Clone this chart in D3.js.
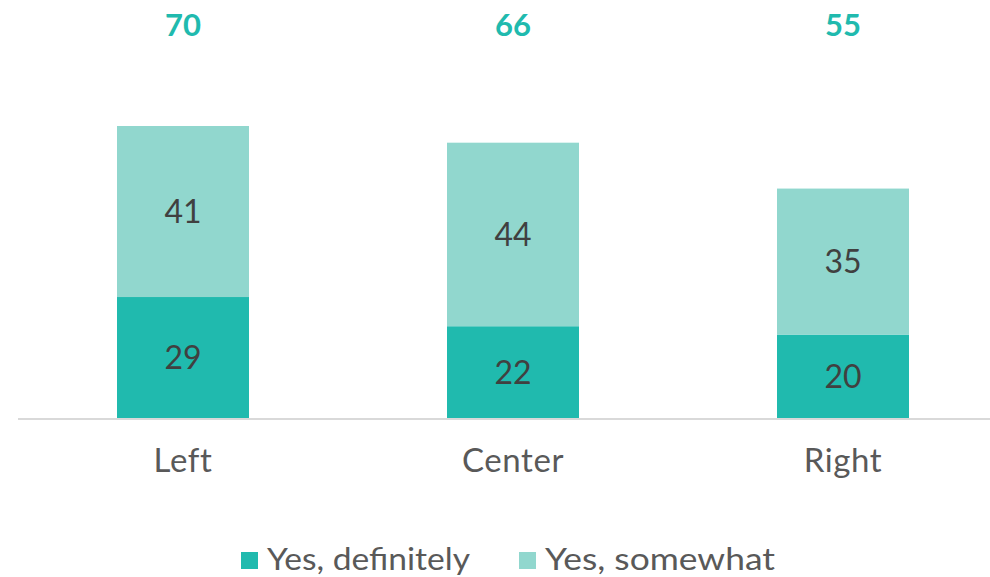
<!DOCTYPE html>
<html>
<head>
<meta charset="utf-8">
<script src="https://cdn.jsdelivr.net/npm/d3@7"></script>
<style>
  html, body { margin: 0; padding: 0; background: #fff; }
  svg { display: block; }
  text { font-family: "Lato", "Open Sans", sans-serif; }
</style>
</head>
<body>
<svg id="chart" width="990" height="577"></svg>
<script>
const categories = ["Left", "Center", "Right"];
const definitely = [29, 22, 20];
const somewhat = [41, 44, 35];
const totals = [70, 66, 55];
const seriesNames = ["Yes, definitely", "Yes, somewhat"];
const colors = ["#20BAAE", "#91D7CE"];

const svg = d3.select("#chart");
const W = 990, H = 577;
const baseY = 418;

const x = d3.scaleBand().domain(categories).range([18, 1008]).paddingInner(0.6).paddingOuter(0.3);
const y = d3.scaleLinear().domain([0, 70]).range([baseY, baseY - 292]);

const data = categories.map((c, i) => ({ cat: c, d: definitely[i], s: somewhat[i], t: totals[i] }));

// bars
const g = svg.append("g");
g.selectAll("rect.def").data(data).join("rect")
  .attr("class", "def")
  .attr("x", d => x(d.cat)).attr("width", x.bandwidth())
  .attr("y", d => y(d.d)).attr("height", d => y(0) - y(d.d))
  .attr("fill", colors[0]);
g.selectAll("rect.som").data(data).join("rect")
  .attr("class", "som")
  .attr("x", d => x(d.cat)).attr("width", x.bandwidth())
  .attr("y", d => y(d.d + d.s)).attr("height", d => y(d.d) - y(d.d + d.s))
  .attr("fill", colors[1]);

// axis line
svg.append("line").attr("x1", 18).attr("x2", W).attr("y1", baseY + 1).attr("y2", baseY + 1)
  .attr("stroke", "#D9D9D9").attr("stroke-width", 2);

// segment labels
g.selectAll("text.dl").data(data).join("text")
  .attr("class", "dl")
  .attr("x", d => x(d.cat) + x.bandwidth() / 2)
  .attr("y", d => (y(0) + y(d.d)) / 2)
  .attr("dy", "0.36em")
  .attr("text-anchor", "middle").attr("font-size", 32).attr("fill", "#404040")
  .text(d => d.d);
g.selectAll("text.sl").data(data).join("text")
  .attr("class", "sl")
  .attr("x", d => x(d.cat) + x.bandwidth() / 2)
  .attr("y", d => (y(d.d) + y(d.d + d.s)) / 2)
  .attr("dy", "0.36em")
  .attr("text-anchor", "middle").attr("font-size", 32).attr("fill", "#404040")
  .text(d => d.s);

// totals
g.selectAll("text.tot").data(data).join("text")
  .attr("class", "tot")
  .attr("x", d => x(d.cat) + x.bandwidth() / 2)
  .attr("y", 36)
  .attr("text-anchor", "middle").attr("font-size", 31).attr("font-weight", "bold").attr("fill", colors[0])
  .text(d => d.t);

// category labels
g.selectAll("text.cat").data(categories).join("text")
  .attr("class", "cat")
  .attr("x", d => x(d) + x.bandwidth() / 2)
  .attr("y", 472)
  .attr("text-anchor", "middle").attr("font-size", 33).attr("fill", "#595959")
  .attr("letter-spacing", 0.6)
  .text(d => d);

// legend
const legendX = [241, 519];
const legendW = [203, 230];
const lg = svg.append("g");
seriesNames.forEach((n, i) => {
  lg.append("rect").attr("x", legendX[i]).attr("y", 552).attr("width", 17).attr("height", 17).attr("fill", colors[i]);
  lg.append("text").attr("x", legendX[i] + 26).attr("y", 570).attr("font-size", 30).attr("fill", "#595959")
    .attr("textLength", legendW[i]).attr("lengthAdjust", "spacingAndGlyphs").text(n);
});
</script>
</body>
</html>
